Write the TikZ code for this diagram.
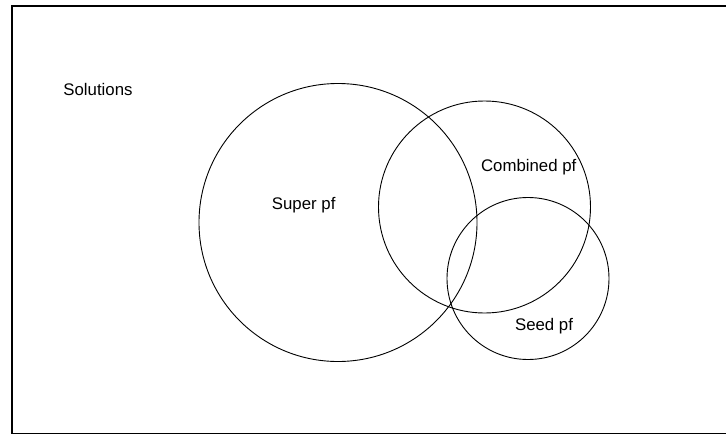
\documentclass[tikz,border=0pt]{standalone}
\usepackage{fontspec}
\setmainfont{Liberation Sans}
\begin{document}
\begin{tikzpicture}[x=1pt,y=-1pt]
\useasboundingbox (0,0) rectangle (726,434);
\draw[line width=1.4pt] (12,6) rectangle (735,433.6);
\node[circle, draw, line width=0.9pt, minimum size=278pt, inner sep=0pt] (pf0) at (338,222.5){};
\node[circle, draw, line width=0.9pt, minimum size=212pt, inner sep=0pt] (pf1) at (484.5,207){};
\node[circle, draw, line width=0.9pt, minimum size=162pt, inner sep=0pt] (pf2) at (528,278.5){};
\node[anchor=base, font=\fontsize{16.8}{20}\selectfont] (lbl0) at (98,95){Solutions};
\node[anchor=base, font=\fontsize{16.8}{20}\selectfont] (lbl1) at (303.7,209){Super pf};
\node[anchor=base, font=\fontsize{16.8}{20}\selectfont] (lbl2) at (528.7,171){Combined pf};
\node[anchor=base, font=\fontsize{16.8}{20}\selectfont] (lbl3) at (544,330){Seed pf};
\end{tikzpicture}
\end{document}
